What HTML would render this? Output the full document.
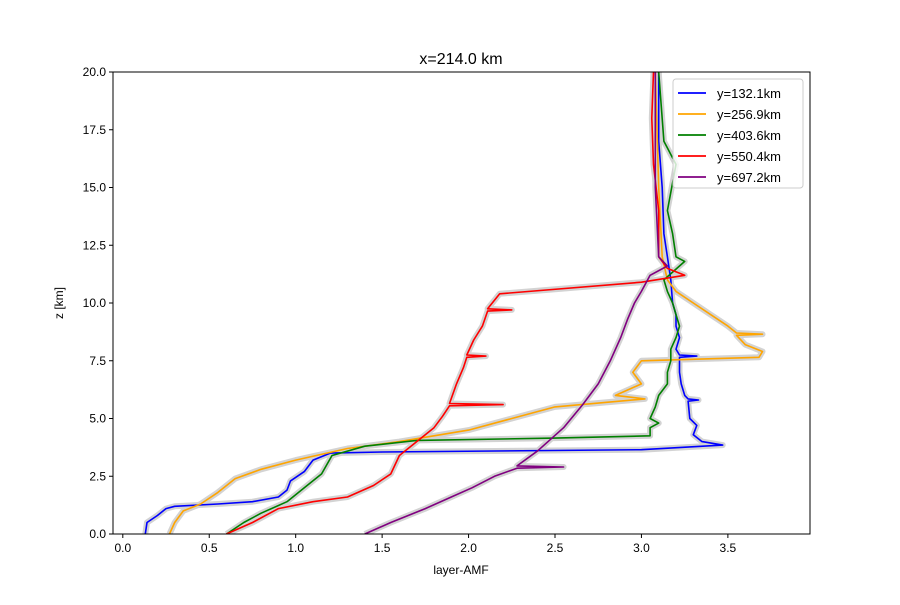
<!DOCTYPE html>
<html><head><meta charset="utf-8"><style>
body{margin:0;background:#fff}
svg{font-family:"Liberation Sans","DejaVu Sans",sans-serif}
</style></head><body>
<svg id="c" width="900" height="600">
<rect width="900" height="600" fill="#fff"/>
<text x="461" y="64" font-size="16" text-anchor="middle">x=214.0 km</text>
<g id="plot"></g>
<g id="axes"></g>
</svg>
<script>
const seriesNames=["y=132.1km","y=256.9km","y=403.6km","y=550.4km","y=697.2km"];
const colors=["blue","orange","green","red","purple"];
const xTicks=[0.0,0.5,1.0,1.5,2.0,2.5,3.0,3.5];
const yTicks=[0.0,2.5,5.0,7.5,10.0,12.5,15.0,17.5,20.0];
const blueX=[0.13,0.14,0.2,0.25,0.3,0.55,0.75,0.9,0.95,0.97,1.05,1.1,1.2,1.5,3.0,3.47,3.35,3.3,3.32,3.28,3.27,3.33,3.27,3.25,3.23,3.22,3.22,3.32,3.22,3.2,3.22,3.2,3.2,3.18,3.17,3.15,3.13,3.12,3.1,3.1];
const blueZ=[0,0.5,0.8,1.1,1.2,1.3,1.4,1.6,1.9,2.3,2.7,3.2,3.5,3.55,3.65,3.85,4.0,4.3,4.7,5.0,5.75,5.8,5.85,6.0,6.5,7.0,7.65,7.7,7.75,8.0,8.5,9.0,9.5,10,11,12,13,15,17,20];
const orangeX=[0.27,0.3,0.35,0.45,0.55,0.65,0.8,1.0,1.3,1.6,2.0,2.25,2.5,3.02,2.85,3.0,2.95,3.0,3.68,3.7,3.6,3.55,3.7,3.55,3.5,3.4,3.3,3.2,3.15,3.12,3.1,3.08];
const orangeZ=[0,0.5,1.0,1.3,1.8,2.4,2.8,3.2,3.7,4.0,4.5,5.0,5.5,5.85,6.0,6.5,7.0,7.5,7.65,7.9,8.2,8.6,8.65,8.7,9.0,9.5,10.0,10.5,11,12,15,20];
const greenX=[0.6,0.7,0.8,0.95,1.05,1.15,1.21,1.4,1.7,2.5,3.05,3.05,3.1,3.05,3.08,3.1,3.15,3.15,3.17,3.17,3.2,3.22,3.2,3.18,3.15,3.13,3.25,3.2,3.18,3.15,3.2,3.13,3.1];
const greenZ=[0,0.5,0.9,1.4,2.0,2.6,3.4,3.8,4.05,4.15,4.25,4.6,4.8,5.0,5.5,6.0,6.5,7.0,7.5,8.0,8.5,9.0,9.5,10,10.5,11.0,11.8,12,13,14,16,17,20];
const redX=[0.6,0.75,0.9,1.1,1.3,1.45,1.55,1.6,1.7,1.8,1.85,1.89,2.2,1.89,1.93,1.97,1.99,2.1,1.99,2.03,2.08,2.11,2.25,2.11,2.18,3.0,3.25,3.15,3.1,3.1,3.07,3.06,3.07];
const redZ=[0,0.5,1.1,1.4,1.6,2.1,2.6,3.4,4.0,4.6,5.1,5.55,5.6,5.65,6.5,7.2,7.65,7.7,7.75,8.4,9.0,9.65,9.7,9.75,10.4,10.9,11.2,11.5,12,14,16,18,20];
const purpleX=[1.4,1.55,1.75,1.9,2.02,2.15,2.28,2.55,2.28,2.4,2.55,2.66,2.75,2.82,2.88,2.92,2.96,3.0,3.05,3.15,3.1,3.08,3.08];
const purpleZ=[0,0.5,1.1,1.6,2.0,2.5,2.85,2.9,2.95,3.6,4.6,5.6,6.5,7.5,8.5,9.3,10.0,10.5,11.2,11.6,12,15,20];
const allX=[blueX,orangeX,greenX,redX,purpleX], allZ=[blueZ,orangeZ,greenZ,redZ,purpleZ];
const L=113,R=810,T=72,B=534,XMIN=-0.0567,XMAX=3.975,YMIN=0,YMAX=20;
const sx=v=>L+(v-XMIN)/(XMAX-XMIN)*(R-L);
const sy=v=>B-(v-YMIN)/(YMAX-YMIN)*(B-T);
const NS="http://www.w3.org/2000/svg";
function mk(t,a,p){const e=document.createElementNS(NS,t);for(const k in a)e.setAttribute(k,a[k]);p.appendChild(e);return e;}
const plot=document.getElementById('plot'),axes=document.getElementById('axes');
const cp=mk('clipPath',{id:'cp'},plot);mk('rect',{x:L,y:T,width:R-L,height:B-T},cp);
const g=mk('g',{'clip-path':'url(#cp)'},plot);
for(let s=0;s<5;s++){
 const pts=allX[s].map((x,i)=>sx(x).toFixed(1)+','+sy(allZ[s][i]).toFixed(1)).join(' ');
 const sh=mk('polyline',{points:pts,fill:'none',stroke:'#d3d3d3','stroke-width':6,'stroke-linejoin':'round'},g);
 
 
}
for(let s=0;s<5;s++){
 const pts=allX[s].map((x,i)=>sx(x).toFixed(1)+','+sy(allZ[s][i]).toFixed(1)).join(' ');
 const pl=mk('polyline',{points:pts,fill:'none',stroke:colors[s],'stroke-width':1.6,'stroke-linejoin':'round'},g);
 
 
}
mk('rect',{x:L,y:T,width:R-L,height:B-T,fill:'none',stroke:'#000','stroke-width':1},axes);
xTicks.forEach(v=>{const x=sx(v);mk('line',{x1:x,x2:x,y1:B,y2:B+4,stroke:'#000'},axes);
 const t=mk('text',{x:x,y:B+18,'font-size':12,'text-anchor':'middle'},axes);t.textContent=v.toFixed(1);
 
 });
yTicks.forEach(v=>{const y=sy(v);mk('line',{x1:L-4,x2:L,y1:y,y2:y,stroke:'#000'},axes);
 const t=mk('text',{x:L-7,y:y+4,'font-size':12,'text-anchor':'end'},axes);t.textContent=v.toFixed(1);
 
 });
const xl=mk('text',{x:461,y:574,'font-size':12,'text-anchor':'middle'},axes);xl.textContent='layer-AMF';


const yl=mk('text',{x:63,y:303,'font-size':12,'text-anchor':'middle',transform:'rotate(-90 63 303)'},axes);yl.textContent='z [km]';


const lg=mk('g',{},axes);


mk('rect',{x:673,y:79,width:130,height:109,rx:3,fill:'#fff','fill-opacity':0.8,stroke:'#ccc'},lg);
for(let s=0;s<5;s++){const y=93+s*21;
 mk('line',{x1:678,x2:706,y1:y,y2:y,stroke:colors[s],'stroke-width':1.8},lg);
 const t=mk('text',{x:717,y:y+5,'font-size':13},lg);t.textContent=seriesNames[s];
 
 }
</script>
</body></html>
